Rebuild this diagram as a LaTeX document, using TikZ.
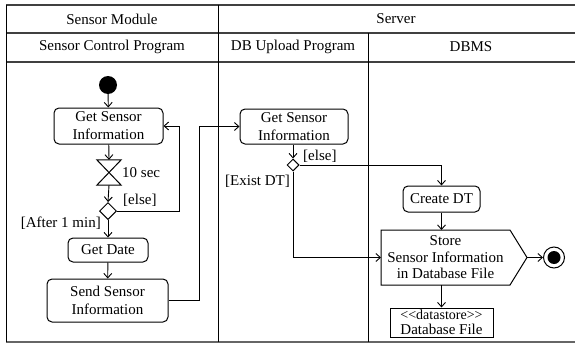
\documentclass[tikz,border=0pt]{standalone}
\usepackage{fontspec}
\setmainfont{Liberation Serif}
\usetikzlibrary{arrows.meta,shapes.geometric}
\begin{document}
\begin{tikzpicture}[x=1pt,y=-1pt,
  font=\fontsize{15}{18}\selectfont,
  act/.style={draw, rounded corners=5pt, line width=1pt, align=center, inner sep=0pt},
  lane/.style={line width=0.9pt, draw=black},
  hline/.style={line width=1.4pt, draw=black!75},
  flow/.style={line width=0.9pt, -{Straight Barb[length=4.5pt,width=8pt]}},
  plain/.style={line width=0.9pt},
  dec/.style={draw, diamond, line width=1pt, inner sep=0pt, aspect=1},
  lbl/.style={inner sep=0pt}
]
\useasboundingbox (0,0) rectangle (575,345);
% frame
\draw[hline] (6,5) -- (575,5);
\draw[hline] (6,33) -- (575,33);
\draw[hline] (6,62) -- (575,62);
\draw[line width=1.2pt, draw=black!60] (6,342) -- (575,342);
\draw[lane] (6,5) -- (6,342);
\draw[lane] (218,5) -- (218,342);
\draw[lane] (368,33) -- (368,342);
% headers
\node[lbl] (hSM) at (112,19) {Sensor Module};
\node[lbl] (hSV) at (396,19) {Server};
\node[lbl] (hSCP) at (112,47) {Sensor Control Program};
\node[lbl] (hDBU) at (293,47) {DB Upload Program};
\node[lbl] (hDBMS) at (471,47) {DBMS};
% nodes
\node[circle, fill=black, minimum size=18pt, inner sep=0pt] (init) at (108,85) {};
\node[act, minimum width=109pt, minimum height=36pt] (gs1) at (108.5,126) {Get Sensor\\Information};
\node[minimum width=24pt, minimum height=25pt, inner sep=0pt] (hg) at (109,172.5) {};
\draw[line width=1pt] (hg.north west) -- (hg.north east) -- (hg.south west) -- (hg.south east) -- cycle;
\node[dec, minimum width=17pt, minimum height=17pt] (d1) at (108,211) {};
\node[act, minimum width=80pt, minimum height=24pt] (gd) at (108,250) {Get Date};
\node[act, minimum width=121pt, minimum height=43pt] (send) at (107.5,300.5) {Send Sensor\\Information};
\node[act, minimum width=108pt, minimum height=35pt] (gs2) at (294,126.5) {Get Sensor\\Information};
\node[dec, minimum width=12pt, minimum height=12pt] (d2) at (293,165) {};
\node[act, minimum width=77pt, minimum height=26pt] (cdt) at (441.5,199) {Create DT};
\node[minimum width=129pt, minimum height=55pt, inner sep=0pt, align=center,
  font=\fontsize{15}{16.5}\selectfont] (store) at (445.5,257.5) {Store\\Sensor Information\\in Database File};
\draw[line width=1pt] (381,230) -- (510,230) -- (527,257.5) -- (510,285) -- (381,285) -- cycle;
\coordinate (tip) at (527,257.5);
\node[circle, draw, line width=1pt, minimum size=21pt, inner sep=0pt] (fin) at (554,257.5) {};
\node[circle, fill=black, minimum size=13pt, inner sep=0pt] at (fin) {};
\node[draw, line width=1pt, minimum width=103pt, minimum height=29pt, inner sep=0pt, align=center,
  font=\fontsize{15}{15}\selectfont] (ds) at (441.5,322.5) {{\fontsize{14}{15}\selectfont <{}<datastore>{}>}\\Database File};
% labels
\node[lbl, anchor=west] (l10) at (122,173) {10 sec};
\node[lbl, anchor=west] (lelse1) at (123,200) {[else]};
\node[lbl, anchor=east] (lafter) at (101,223) {[After 1 min]};
\node[lbl, anchor=west] (lelse2) at (303,156) {[else]};
\node[lbl, anchor=east] (lexist) at (290,181) {[Exist DT]};
% flows
\draw[flow] (init) -- (gs1);
\draw[flow] (gs1) -- (hg.north);
\draw[flow] (hg.south) -- (d1.north);
\draw[flow] (d1.south) -- (gd.north);
\draw[flow] (gd) -- (send);
\draw[flow] (d1.east) -- (179,211) |- (gs1.east);
\draw[flow] (send.east) -- (199,300.5) |- (gs2.west);
\draw[flow] (gs2.south -| d2) -- (d2.north);
\draw[flow] (d2.east) -| (cdt.north);
\draw[flow] (cdt.south) -- (441.5,230);
\draw[flow] (d2.south) |- (381,257.5);
\draw[flow] (tip) -- (fin.west);
\draw[flow] (441.5,285) -- (ds.north);
\end{tikzpicture}
\end{document}
